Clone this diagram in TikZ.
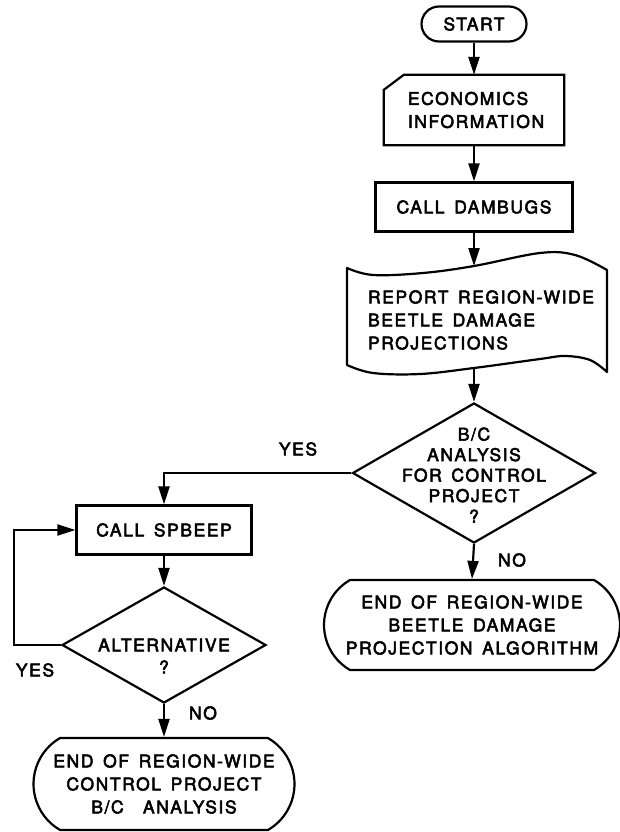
\documentclass[tikz,border=0pt]{standalone}
\usepackage{fontspec}
\setmainfont{TeX Gyre Heros}[LetterSpace=9,WordSpace=1.5,FakeBold=3]
\usetikzlibrary{shapes.misc,shapes.geometric,arrows.meta,calc}
\begin{document}
\begin{tikzpicture}[x=1pt,y=-1pt,
  every node/.style={font=\fontsize{17.5}{23}\selectfont},
  line/.style={line width=2.2pt},
  arr/.style={line width=2.2pt, -{Triangle[length=18pt,width=11pt]}},
  term/.style={rounded rectangle, draw, line width=2.2pt, align=center, inner sep=0pt},
  endterm/.style={term, rounded rectangle arc length=120},
  box/.style={rectangle, draw, line width=2.2pt, align=center, inner sep=0pt},
  dia/.style={diamond, draw, line width=2.2pt, inner sep=0pt},
  plain/.style={inner sep=0pt, align=center},
  lbl/.style={inner sep=0pt}]
\useasboundingbox (0,0) rectangle (620,832);

% right column
\node[term, minimum width=105pt, minimum height=35pt] (start) at (474,24) {START};
\node[plain, minimum width=180pt, minimum height=70pt] (econ) at (474,110) {};
\node[plain, align=left] (econt) at (476,110) {ECONOMICS\\INFORMATION};
\draw[line, line join=miter] ($(econ.north west)+(0,15)$) -- ($(econ.north west)+(20,0)$)
  -- (econ.north east) -- (econ.south east) -- (econ.south west) -- cycle;
\node[box, minimum width=197pt, minimum height=49pt] (dambugs) at (474,207) {CALL DAMBUGS};

\node[plain, align=left] (report) at (481,320) {REPORT REGION-WIDE\\BEETLE DAMAGE\\PROJECTIONS};
\coordinate (rtop) at (474,266);
\coordinate (rbot) at (474,368);
\draw[line, line join=round]
  plot[smooth, tension=0.6] coordinates {(347,268) (373,275) (423,273) (474,266) (540,253) (575,255) (607,270)}
  -- plot[smooth, tension=0.6] coordinates {(607,372) (590,360) (565,356) (540,359) (474,368) (420,374) (373,373) (347,365)}
  -- cycle;

\node[dia, minimum width=243pt, minimum height=140pt] (d1) at (474,473) {};
\node[plain, font=\fontsize{17.5}{20.5}\selectfont] (d1t) at (474,475) {B/C\\ANALYSIS\\FOR CONTROL\\PROJECT\\?};

\node[endterm, minimum width=296pt, minimum height=90pt] (end1) at (472,625)
  {END OF REGION-WIDE\\BEETLE DAMAGE\\PROJECTION ALGORITHM};

% left column
\node[box, minimum width=175pt, minimum height=49pt] (spbeep) at (164,530) {CALL SPBEEP};
\node[dia, minimum width=204pt, minimum height=116pt] (d2) at (164,645) {};
\node[plain, font=\fontsize{17.5}{22}\selectfont] (d2t) at (164,656) {ALTERNATIVE\\?};
\node[endterm, minimum width=261pt, minimum height=92pt] (end2) at (164,784)
  {END OF REGION-WIDE\\CONTROL PROJECT\\B/C\ \ ANALYSIS};
\coordinate (loopc) at (14,645);

% labels
\node[lbl] (yes1) at (298,449) {YES};
\node[lbl] (no1) at (512,560) {NO};
\node[lbl] (yes2) at (35,670) {YES};
\node[lbl] (no2) at (203,713) {NO};

% connectors
\draw[arr] (start.south) -- (econ.north);
\draw[arr] (econ.south) -- (dambugs.north);
\draw[arr] (dambugs.south) -- (rtop);
\draw[arr] (rbot) -- (d1.north);
\draw[arr] (d1.south) -- (end1.north);
\draw[arr] (d1.west) -| (spbeep.north);
\draw[arr] (spbeep.south) -- (d2.north);
\draw[arr] (d2.west) -- (loopc) |- (spbeep.west);
\draw[arr] (d2.south) -- (end2.north);
\end{tikzpicture}
\end{document}
